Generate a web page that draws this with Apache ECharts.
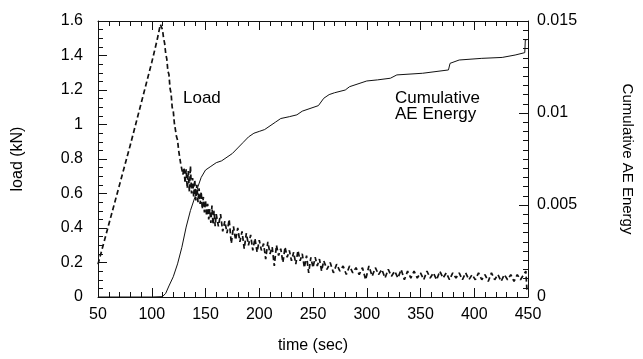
<!DOCTYPE html>
<html>
<head>
<meta charset="utf-8">
<script src="https://cdn.jsdelivr.net/npm/echarts@6/dist/echarts.min.js"></script>
<style>
html,body{margin:0;padding:0;background:#fff;}
#c{width:643px;height:359px;}
</style>
</head>
<body>
<div id="c"></div>
<script>
// ---- data ----
const loadTime = [50,60,70,80,90,100,105,108,
110,111,112,113,114,115,116,117,118,119,120,121,122,123,124,125,126,127,128,129,
130,131,132,133,134,135,136,137,138,139,140,141,142,143,144,145,146,147,148,149,
150,151,152,153,154,155,156,157,158,159,160,
162,164,166,168,170,172,174,176,178,180,182,184,186,188,190,192,194,196,198,200,
202,204,206,208,210,212,214,216,218,220,222,224,226,228,230,232,234,236,238,240,
242,244,246,248,250,252,254,256,258,260,
263,266,269,272,275,278,281,284,287,290,293,296,299,302,305,308,311,314,317,320,
323,326,329,332,335,338,341,344,347,350,353,356,359,362,365,368,371,374,377,380,
383,386,389,392,395,398,401,404,407,410,413,416,419,422,425,428,431,434,437,440,
443,446,448,449];
const loadValues = [0.19,0.42,0.65,0.88,1.12,1.36,1.49,1.58,
1.55,1.50,1.47,1.41,1.38,1.31,1.29,1.21,1.18,1.10,1.08,1.01,1.00,0.93,0.91,0.85,0.84,0.77,0.78,0.71,
0.75,0.66,0.74,0.63,0.73,0.61,0.76,0.60,0.69,0.58,0.68,0.56,0.65,0.55,0.63,0.54,0.61,0.51,0.58,0.49,
0.56,0.47,0.54,0.45,0.51,0.43,0.53,0.42,0.50,0.41,0.48,
0.41,0.48,0.38,0.44,0.37,0.45,0.31,0.41,0.33,0.40,0.32,0.38,0.28,0.37,0.30,0.36,0.27,0.34,0.26,0.33,
0.27,0.31,0.22,0.32,0.25,0.29,0.18,0.30,0.24,0.28,0.20,0.29,0.23,0.27,0.21,0.26,0.19,0.27,0.21,0.25,
0.17,0.24,0.14,0.23,0.17,0.23,0.18,0.22,0.15,0.21,
0.16,0.20,0.14,0.19,0.15,0.18,0.13,0.18,0.14,0.17,0.13,0.17,0.10,0.18,0.12,0.17,0.13,0.16,0.11,0.16,
0.12,0.15,0.11,0.16,0.10,0.15,0.11,0.15,0.11,0.14,0.10,0.15,0.11,0.14,0.10,0.15,0.11,0.14,0.10,0.14,
0.11,0.14,0.10,0.14,0.10,0.13,0.10,0.14,0.10,0.13,0.09,0.14,0.10,0.13,0.09,0.13,0.10,0.13,0.09,0.13,
0.10,0.13,0.15,0.04];

const energyTime = [50,100,110,113,116,120,124,128,132,136,140,143,146,150,155,160,165,170,175,180,
185,190,195,200,205,210,215,220,228,235,240,250,255,260,265,270,280,284,300,310,
322,328,352,376,377.5,386,407,426,438,447,447.5,450];
const energyValues = [0,0,0.00002,0.0002,0.0006,0.0011,0.0018,0.0027,0.0038,0.0047,0.0054,0.006,0.0065,0.0069,0.0071,0.0073,0.0074,0.0076,0.0078,0.0081,
0.0084,0.0087,0.0089,0.009,0.0091,0.0093,0.0095,0.0097,0.0098,0.0099,0.0101,0.0103,0.0104,0.0108,0.0110,0.0111,0.01125,0.01143,0.01174,0.0118,
0.01189,0.01207,0.01216,0.01234,0.0127,0.01288,0.01297,0.01302,0.01315,0.01328,0.01397,0.01400];

const xTicks = {min:50, max:450, step:50};
const loadTicks = {min:0, max:1.6, step:0.2};
const energyTicks = {min:0, max:0.015, step:0.005};

// ---- chart ----
const FONT = 'Liberation Sans';
const ink = '#111';
const chart = echarts.init(document.getElementById('c'), null, {renderer:'canvas'});
const loadData = loadTime.map((t,i)=>[t, loadValues[i]]);
const energyData = energyTime.map((t,i)=>[t, energyValues[i]]);

const axisCommon = {
  axisLine:{show:true, onZero:false, lineStyle:{color:ink, width:1}},
  axisTick:{show:true, inside:true, length:9, lineStyle:{color:ink}},
  minorTick:{show:true, length:5, lineStyle:{color:ink}},
  splitLine:{show:false},
  axisLabel:{color:'#000', fontFamily:FONT, fontSize:16},
  nameTextStyle:{color:'#000', fontFamily:FONT, fontSize:16}
};

chart.setOption({
  animation:false,
  backgroundColor:'#fff',
  grid:{left:98, right:104, top:21, bottom:59},
  xAxis:[
    Object.assign({}, axisCommon, {
      type:'value', position:'bottom', min:xTicks.min, max:xTicks.max, interval:xTicks.step,
      minorTick:{show:true, splitNumber:5, length:5, lineStyle:{color:ink}},
      axisLabel:Object.assign({}, axisCommon.axisLabel, {margin:10}),
      name:'time (sec)', nameLocation:'middle', nameGap:41
    }),
    Object.assign({}, axisCommon, {
      type:'value', position:'top', min:xTicks.min, max:xTicks.max, interval:xTicks.step,
      minorTick:{show:true, splitNumber:5, length:5, lineStyle:{color:ink}},
      axisLabel:{show:false}
    })
  ],
  yAxis:[
    Object.assign({}, axisCommon, {
      type:'value', position:'left', min:loadTicks.min, max:loadTicks.max, interval:loadTicks.step,
      minorTick:{show:true, splitNumber:4, length:5, lineStyle:{color:ink}},
      axisLabel:Object.assign({}, axisCommon.axisLabel, {margin:15}),
      name:'load (kN)', nameLocation:'middle', nameRotate:90, nameGap:72
    }),
    Object.assign({}, axisCommon, {
      type:'value', position:'right', min:energyTicks.min, max:energyTicks.max, interval:energyTicks.step,
      minorTick:{show:true, splitNumber:10, length:5, lineStyle:{color:ink}},
      axisLabel:Object.assign({}, axisCommon.axisLabel, {margin:9}),
      name:'Cumulative AE Energy', nameLocation:'middle', nameRotate:-90, nameGap:92,
      nameTextStyle:{color:'#000', fontFamily:FONT, fontSize:15}
    })
  ],
  series:[
    {type:'line', name:'Load', xAxisIndex:0, yAxisIndex:0, data:loadData, showSymbol:false, symbol:'none',
     lineStyle:{color:ink, width:1.7, type:[5,3]}},
    {type:'line', name:'Cumulative AE Energy', xAxisIndex:0, yAxisIndex:1, data:energyData, showSymbol:false, symbol:'none',
     lineStyle:{color:ink, width:1}}
  ],
  graphic:[
    {type:'text', left:183, top:90, style:{text:'Load', font:'17px "Liberation Sans"', fill:'#000'}},
    {type:'text', left:395, top:90, style:{text:'Cumulative\nAE Energy', font:'17px "Liberation Sans"', fill:'#000', lineHeight:16}}
  ]
});
</script>
</body>
</html>
